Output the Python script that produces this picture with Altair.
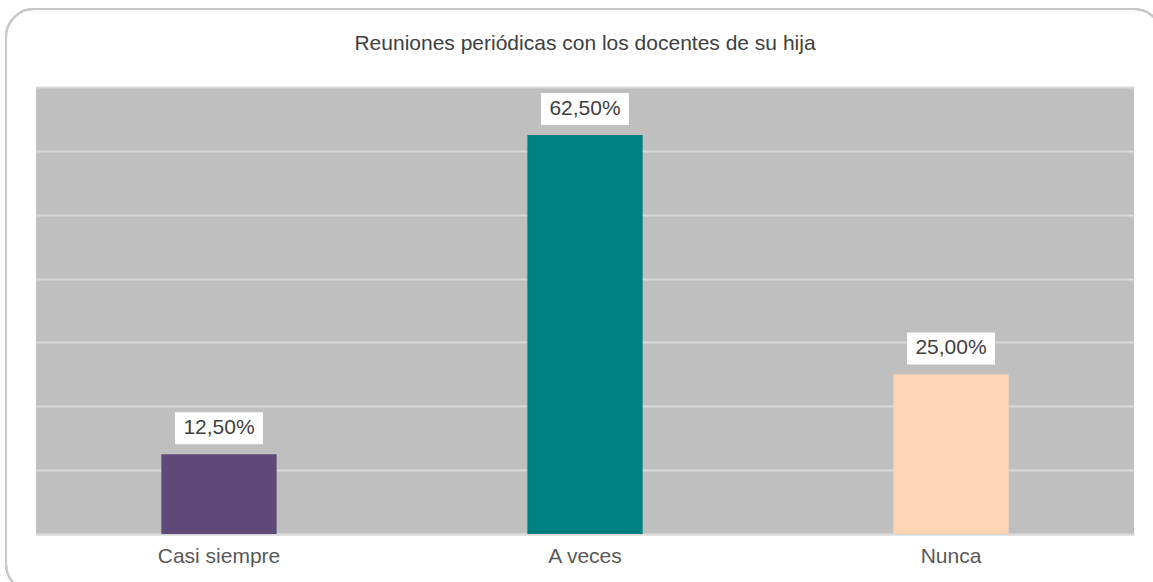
import altair as alt
import pandas as pd

title_text = "Reuniones periódicas con los docentes de su hija"
categories = ["Casi siempre", "A veces", "Nunca"]
values = [12.5, 62.5, 25.0]
labels = ["12,50%", "62,50%", "25,00%"]
colors = ["#604A7B", "#008080", "#FCD5B5"]
grid_values = [0, 10, 20, 30, 40, 50, 60, 70]

df = pd.DataFrame({"cat": categories, "v": values, "lab": labels})

FONT = "Liberation Sans"

xaxis = alt.Axis(labelAngle=0, labelFontSize=21, labelColor="#595959", labelFont=FONT,
                 ticks=False, domainColor="#D9D9D9", domainWidth=2, labelPadding=11,
                 title=None)
yaxis = alt.Axis(labels=False, ticks=False, domain=False, title=None,
                 gridColor="#D9D9D9", gridWidth=2, values=grid_values)
xscale = alt.Scale(paddingInner=0.685, paddingOuter=0.3425)
yscale = alt.Scale(domain=[0, 70], nice=False)

bars = alt.Chart(df).mark_bar().encode(
    x=alt.X("cat:N", sort=categories, scale=xscale, axis=xaxis),
    y=alt.Y("v:Q", scale=yscale, axis=yaxis),
    color=alt.Color("cat:N", sort=categories,
                    scale=alt.Scale(domain=categories, range=colors), legend=None),
)

boxes = alt.Chart(df).transform_calculate(
    lo="datum.v + 1.55", hi="datum.v + 6.55"
).mark_bar(color="white", width=88).encode(
    x=alt.X("cat:N", sort=categories, scale=xscale, axis=xaxis),
    y=alt.Y("lo:Q", scale=yscale, axis=yaxis), y2="hi:Q",
)

texts = alt.Chart(df).transform_calculate(
    mid="datum.v + 4.05"
).mark_text(fontSize=21, color="#404040", font=FONT, baseline="middle").encode(
    x=alt.X("cat:N", sort=categories, scale=xscale, axis=xaxis),
    y=alt.Y("mid:Q", scale=yscale, axis=yaxis),
    text="lab:N",
)

title = alt.Chart(pd.DataFrame({"t": [title_text]})).mark_text(
    fontSize=21, color="#404040", font=FONT, baseline="middle", align="center", clip=False
).encode(x=alt.value(549), y=alt.value(-43), text="t:N")

frame = alt.Chart(df).mark_rect(
    fill="transparent", stroke="#C8C8C8", strokeWidth=2, cornerRadius=28, clip=False
).encode(
    x=alt.value(-30), x2=alt.value(1126), y=alt.value(-78), y2=alt.value(505)
)

chart = alt.layer(bars, boxes, texts, title, frame).properties(
    width=1098, height=447,
    autosize=alt.AutoSizeParams(type="none"),
    padding={"left": 36, "top": 87, "right": 19, "bottom": 48},
).configure(background="white").configure_view(fill="#BFBFBF", stroke=None)

chart.save("out.html", embed_options={"renderer": "svg", "actions": False})
